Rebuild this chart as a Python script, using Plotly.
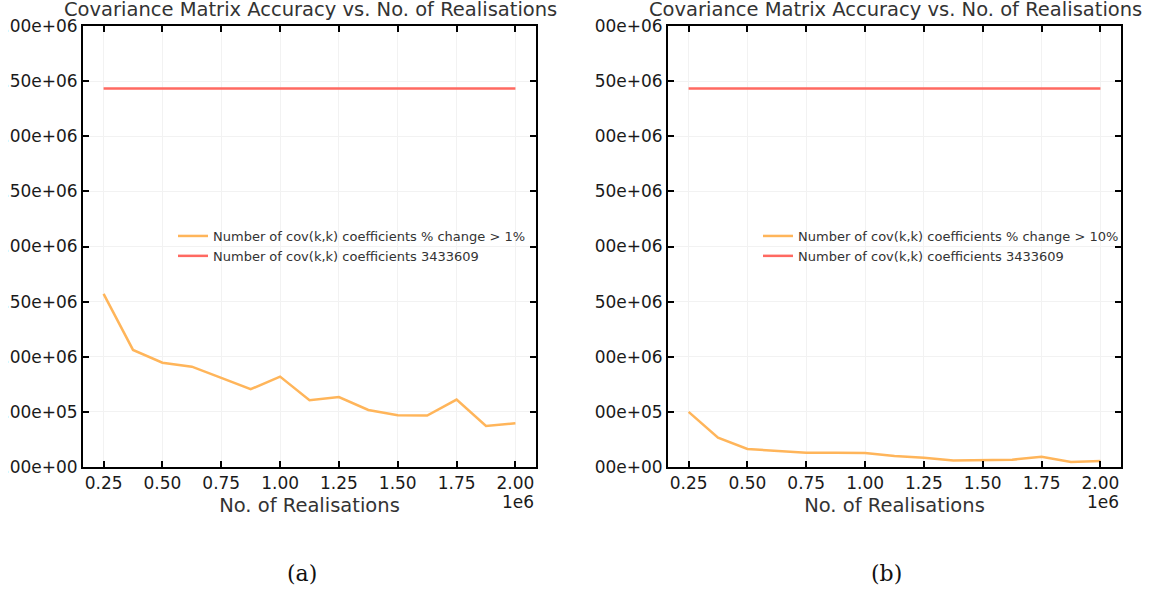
import plotly.graph_objects as go

# Number of realisations used to estimate the covariance matrix
realisations = [250000, 375000, 500000, 625000, 750000, 875000, 1000000, 1125000,
                1250000, 1375000, 1500000, 1625000, 1750000, 1875000, 2000000]

# Diagonal coefficients whose value changed by more than the threshold
changed_gt_1pct = [1570000, 1062000, 946000, 910000, 808000, 705000, 820000, 605000,
                   635000, 517000, 469000, 466000, 611000, 372000, 396000]
changed_gt_10pct = [500000, 265000, 163000, 145000, 130000, 130000, 127000, 99000,
                    84000, 60000, 60000, 66000, 93000, 45000, 54000]

# Total number of diagonal coefficients
total_coeffs = 3433609

x_ticks = [250000, 500000, 750000, 1000000, 1250000, 1500000, 1750000, 2000000]
y_ticks = [0, 500000, 1000000, 1500000, 2000000, 2500000, 3000000, 3500000, 4000000]

TITLE = "Covariance Matrix Accuracy vs. No. of Realisations"
ORANGE = "#ffb55a"
RED = "#ff6961"
FONT = "DejaVu Sans"
W, H = 1155, 594

panels = [
    dict(suffix="", legend="legend", series=changed_gt_1pct, thr="1%",
         left=83, right=536, caption="(a)", cap_x=302),
    dict(suffix="2", legend="legend2", series=changed_gt_10pct, thr="10%",
         left=668, right=1121, caption="(b)", cap_x=886),
]
top, bottom = 26, 467

fig = go.Figure()
layout = dict(
    width=W, height=H, margin=dict(l=0, r=0, t=0, b=0),
    paper_bgcolor="white", plot_bgcolor="white",
    font=dict(family=FONT, color="#222222"),
    annotations=[], shapes=[],
)

for p in panels:
    xa, ya = "x" + p["suffix"], "y" + p["suffix"]
    fig.add_trace(go.Scatter(
        x=realisations, y=p["series"], mode="lines",
        line=dict(color=ORANGE, width=2.5),
        name=f"Number of cov(k,k) coefficients % change > {p['thr']}",
        xaxis=xa, yaxis=ya, legend=p["legend"]))
    fig.add_trace(go.Scatter(
        x=realisations, y=[total_coeffs] * len(realisations), mode="lines",
        line=dict(color=RED, width=2.5),
        name=f"Number of cov(k,k) coefficients {total_coeffs}",
        xaxis=xa, yaxis=ya, legend=p["legend"]))

    axis_common = dict(
        showline=True, linecolor="black", linewidth=2, mirror="allticks",
        ticks="inside", ticklen=6, tickwidth=2, tickcolor="black",
        showgrid=True, gridcolor="#f2f2f2", gridwidth=1, zeroline=False,
        automargin=False, tickfont=dict(family=FONT, size=17, color="#1a1a1a"),
    )
    layout["xaxis" + p["suffix"]] = dict(
        axis_common, domain=[p["left"] / W, p["right"] / W],
        range=[162500, 2087500], tickvals=x_ticks,
        ticktext=[f"{v / 1e6:.2f}" for v in x_ticks],
        anchor=ya,
        title=dict(text="No. of Realisations", standoff=6,
                   font=dict(family=FONT, size=19.5, color="#333333")),
    )
    layout["yaxis" + p["suffix"]] = dict(
        axis_common, domain=[1 - bottom / H, 1 - top / H],
        range=[0, 4000000], tickvals=y_ticks,
        ticktext=[f"{v:.2e}" for v in y_ticks],
        anchor=xa,
    )
    layout[p["legend"]] = dict(
        x=(p["left"] + 90) / W, y=1 - 221 / H, xanchor="left", yanchor="top",
        bgcolor="rgba(0,0,0,0)", borderwidth=0,
        font=dict(family=FONT, size=13, color="#333333"),
    )
    cx = (p["left"] + p["right"]) / 2 / W
    layout["annotations"] += [
        dict(text=TITLE, x=cx + 1 / W, y=1 + 4 / H, xref="paper", yref="paper",
             xanchor="center", yanchor="top", showarrow=False,
             font=dict(family=FONT, size=19.5, color="#333333")),
        dict(text="1e6", x=(p["right"]) / W, y=1 - 490 / H, xref="paper", yref="paper",
             xanchor="right", yanchor="top", showarrow=False,
             font=dict(family=FONT, size=17, color="#1a1a1a")),
        dict(text=p["caption"], x=p["cap_x"] / W, y=1 - 573 / H, xref="paper", yref="paper",
             xanchor="center", yanchor="middle", showarrow=False,
             font=dict(family="DejaVu Serif", size=22, color="#111111")),
    ]

# Each panel image is trimmed on its left, cutting into the y tick labels
for x0, x1 in [(0, 8), (557, 594)]:
    layout["shapes"].append(dict(
        type="rect", xref="paper", yref="paper", x0=x0 / W, x1=x1 / W,
        y0=1 - 480 / H, y1=1 - 18 / H, fillcolor="white", line=dict(width=0),
        layer="above"))

fig.update_layout(**layout)
fig.write_html("out.html")
